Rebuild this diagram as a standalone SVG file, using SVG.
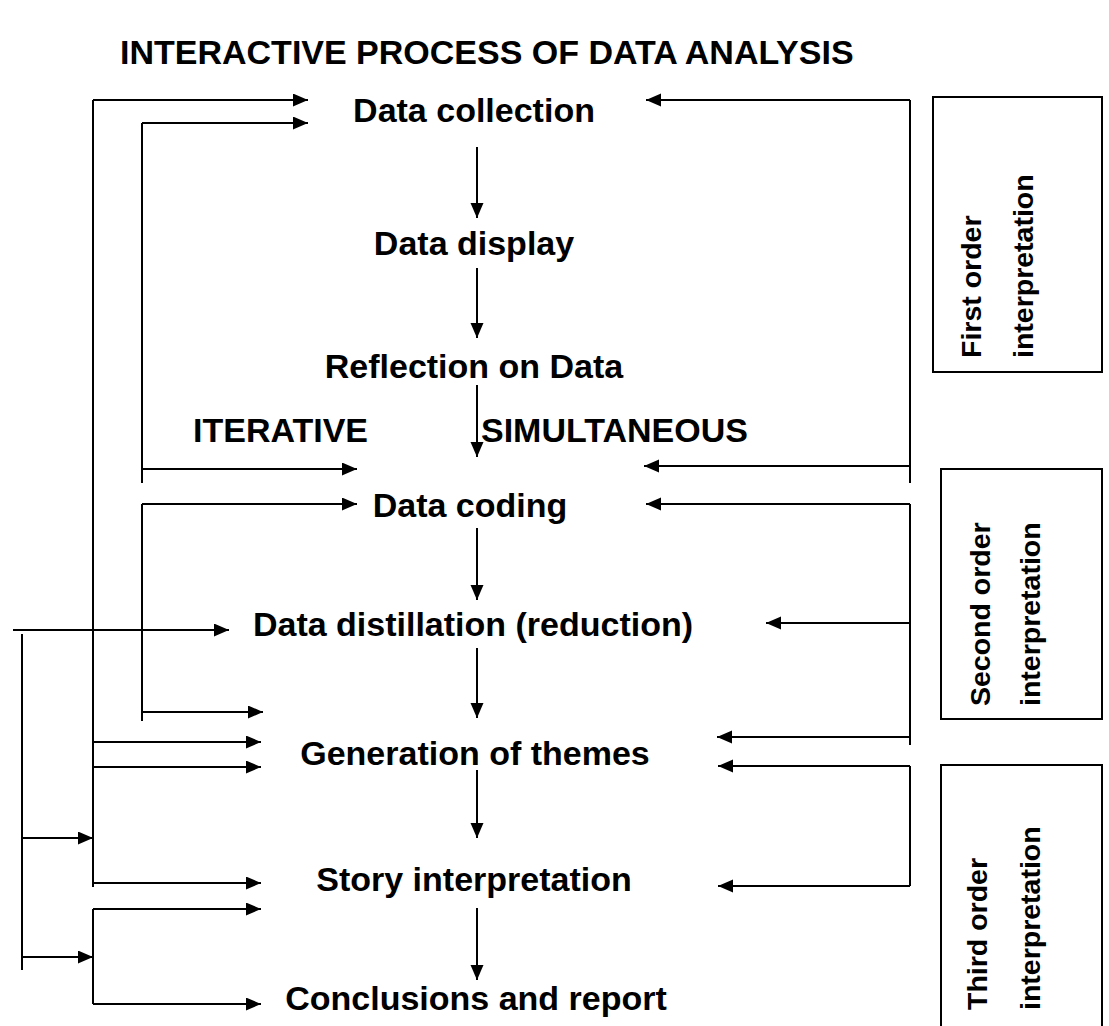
<svg xmlns="http://www.w3.org/2000/svg" width="1109" height="1026" viewBox="0 0 1109 1026">
<defs>
<marker id="ah" markerUnits="userSpaceOnUse" markerWidth="16" markerHeight="14" refX="15" refY="6.5" orient="auto">
<path d="M0,0 L15,6.5 L0,13 z" fill="#000"/>
</marker>
<style>
.t{font-family:"Liberation Sans",Arial,sans-serif;font-weight:bold;font-size:34px;fill:#000}
.c{text-anchor:middle}
.v{font-family:"Liberation Sans",Arial,sans-serif;font-weight:bold;font-size:28.5px;fill:#000}
.l{fill:none;stroke:#000;stroke-width:2}
.a{fill:none;stroke:#000;stroke-width:2;marker-end:url(#ah)}
.b{fill:#fff;stroke:#000;stroke-width:2}
</style>
</defs>
<rect width="1109" height="1026" fill="#fff"/>
<text id="title" class="t" x="120" y="64" font-size="33.5">INTERACTIVE PROCESS OF DATA ANALYSIS</text>
<g id="connectors">
<line class="a" x1="477" y1="147" x2="477" y2="218"/>
<line class="a" x1="477" y1="268" x2="477" y2="338"/>
<line class="a" x1="477" y1="385" x2="477" y2="457"/>
<line class="a" x1="477" y1="528" x2="477" y2="600"/>
<line class="a" x1="477" y1="648" x2="477" y2="718"/>
<line class="a" x1="477" y1="770" x2="477" y2="838"/>
<line class="a" x1="477" y1="908" x2="477" y2="980"/>
<line class="l" x1="93" y1="100" x2="93" y2="887"/>
<line class="a" x1="93" y1="100" x2="308" y2="100"/>
<line class="l" x1="142" y1="123" x2="142" y2="483"/>
<line class="a" x1="142" y1="123" x2="308" y2="123"/>
<line class="a" x1="142" y1="469" x2="357" y2="469"/>
<line class="l" x1="142" y1="504" x2="142" y2="721"/>
<line class="a" x1="142" y1="504" x2="357" y2="504"/>
<line class="a" x1="142" y1="712" x2="263" y2="712"/>
<line class="a" x1="93" y1="742" x2="261" y2="742"/>
<line class="a" x1="93" y1="767" x2="261" y2="767"/>
<line class="a" x1="93" y1="883" x2="261" y2="883"/>
<line class="l" x1="93" y1="909" x2="93" y2="1004"/>
<line class="a" x1="93" y1="909" x2="261" y2="909"/>
<line class="a" x1="93" y1="1004" x2="261" y2="1004"/>
<line class="a" x1="13" y1="630" x2="229" y2="630"/>
<line class="l" x1="22" y1="634" x2="22" y2="970"/>
<line class="a" x1="22" y1="838" x2="93" y2="838"/>
<line class="a" x1="22" y1="957" x2="93" y2="957"/>
<line class="l" x1="910" y1="100" x2="910" y2="483"/>
<line class="a" x1="910" y1="100" x2="646" y2="100"/>
<line class="a" x1="910" y1="466" x2="644" y2="466"/>
<line class="l" x1="910" y1="504" x2="910" y2="745"/>
<line class="a" x1="910" y1="504" x2="646" y2="504"/>
<line class="a" x1="910" y1="623" x2="766" y2="623"/>
<line class="a" x1="910" y1="737" x2="717" y2="737"/>
<line class="l" x1="910" y1="766" x2="910" y2="886"/>
<line class="a" x1="910" y1="766" x2="718" y2="766"/>
<line class="a" x1="910" y1="886" x2="718" y2="886"/>
</g>
<g id="n-collection"><text class="t c" x="474" y="122">Data collection</text></g>
<g id="n-display"><text class="t c" x="474" y="255">Data display</text></g>
<g id="n-reflection"><text class="t c" x="474" y="378">Reflection on Data</text></g>
<g id="n-iterative"><text class="t" x="193" y="442">ITERATIVE</text></g>
<g id="n-simultaneous"><text class="t" x="481" y="442">SIMULTANEOUS</text></g>
<g id="n-coding"><text class="t c" x="470" y="517">Data coding</text></g>
<g id="n-distillation"><text class="t c" x="473" y="636">Data distillation (reduction)</text></g>
<g id="n-themes"><text class="t c" x="475" y="765">Generation of themes</text></g>
<g id="n-story"><text class="t c" x="474" y="891">Story interpretation</text></g>
<g id="n-conclusions"><text class="t c" x="476" y="1010">Conclusions and report</text></g>
<g id="n-first">
<rect class="b" x="933" y="97" width="169" height="275"/>
<text class="v" transform="translate(981,358) rotate(-90)">First order</text>
<text class="v" transform="translate(1033,358) rotate(-90)">interpretation</text>
</g>
<g id="n-second">
<rect class="b" x="941" y="469" width="161" height="250"/>
<text class="v" transform="translate(990,706) rotate(-90)">Second order</text>
<text class="v" transform="translate(1040,706) rotate(-90)">interpretation</text>
</g>
<g id="n-third">
<rect class="b" x="941" y="765" width="161" height="280"/>
<text class="v" transform="translate(987,1010) rotate(-90)">Third order</text>
<text class="v" transform="translate(1040,1010) rotate(-90)">interpretation</text>
</g>
</svg>
